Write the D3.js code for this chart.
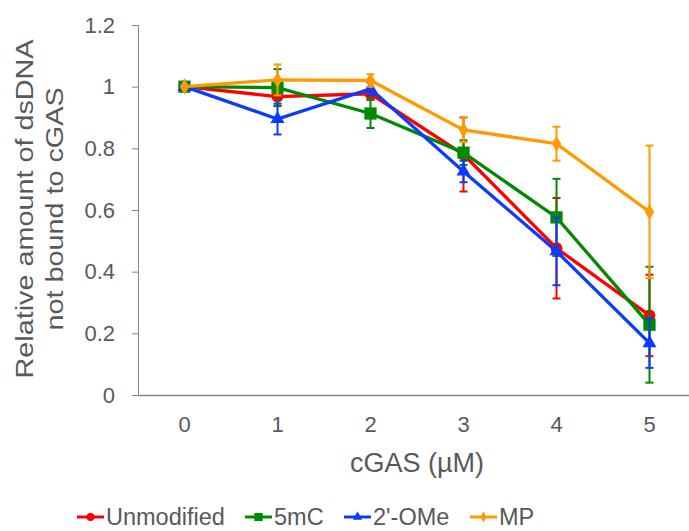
<!DOCTYPE html>
<html>
<head>
<meta charset="utf-8">
<script src="https://cdn.jsdelivr.net/npm/d3@7"></script>
<style>
  body { margin: 0; background: #fff; }
  text { font-family: "Liberation Sans", Arial, sans-serif; fill: #595959; }
</style>
</head>
<body>
<div id="chart"></div>
<script>
var categories = ["0", "1", "2", "3", "4", "5"];
var seriesNames = ["Unmodified", "5mC", "2'-OMe", "MP"];

var unmodified    = [1, 0.968, 0.977, 0.78, 0.476, 0.258];
var unmodifiedErr = [0, 0.03, 0.02, 0.12, 0.163, 0.132];
var mc5           = [1, 0.997, 0.913, 0.786, 0.576, 0.228];
var mc5Err        = [0, 0.06, 0.047, 0.04, 0.125, 0.188];
var ome           = [1, 0.895, 0.993, 0.725, 0.466, 0.168];
var omeErr        = [0, 0.05, 0.02, 0.035, 0.11, 0.08];
var mp            = [1, 1.022, 1.02, 0.86, 0.815, 0.594];
var mpErr         = [0, 0.05, 0.02, 0.04, 0.055, 0.215];

var yTicks = [0, 0.2, 0.4, 0.6, 0.8, 1, 1.2];

var series = [
  { name: seriesNames[0], values: unmodified, err: unmodifiedErr, color: "#ff0000", shape: d3.symbolCircle, size: 110 },
  { name: seriesNames[1], values: mc5, err: mc5Err, color: "#008a00", shape: d3.symbolSquare, size: 150 },
  { name: seriesNames[2], values: ome, err: omeErr, color: "#0a3cff", shape: d3.symbolTriangle, size: 85 },
  { name: seriesNames[3], values: mp, err: mpErr, color: "#ff9a00", shape: d3.symbolDiamond, size: 75 }
];

var WIDTH = 689, HEIGHT = 531;
var MARGINS = { top: 25, left: 138, bottom: 136, right: -7 };

var svg = d3.select("#chart").append("svg")
  .attr("width", WIDTH)
  .attr("height", HEIGHT);

var xRange = d3.scaleBand().domain(categories).range([MARGINS.left, WIDTH - MARGINS.right]);
var yRange = d3.scaleLinear().domain([0, 1.2]).range([HEIGHT - MARGINS.bottom, MARGINS.top]);

var yAxis = d3.axisLeft(yRange).tickValues(yTicks).tickSize(6).tickPadding(17)
  .tickFormat(function (d) { return d3.format("~g")(d); });
var gy = svg.append("g")
  .attr("transform", "translate(" + MARGINS.left + ",0)")
  .call(yAxis);
gy.select(".domain").attr("stroke", "#868686").attr("stroke-width", 1);
gy.selectAll(".tick line").attr("stroke", "#868686");
gy.selectAll(".tick text").style("font-size", "22px").attr("fill", "#595959");

var xAxis = d3.axisBottom(xRange).tickSize(0).tickPadding(21);
var gx = svg.append("g")
  .attr("transform", "translate(0," + yRange(0) + ")")
  .call(xAxis);
gx.select(".domain").attr("stroke", "#868686").attr("stroke-width", 1.3);
gx.selectAll(".tick text").style("font-size", "22px").attr("fill", "#595959");

// axis titles
svg.append("text")
  .attr("x", xRange("2") + xRange.bandwidth())
  .attr("y", 472)
  .attr("text-anchor", "middle")
  .style("font-size", "27px")
  .text("cGAS (µM)");

var yTitle = svg.append("text")
  .attr("transform", "translate(33,209) rotate(-90) scale(1.18,1)")
  .attr("text-anchor", "middle")
  .style("font-size", "24.4px");
yTitle.append("tspan").attr("x", 0).attr("y", 0).text("Relative amount of dsDNA");
yTitle.append("tspan").attr("x", 0).attr("y", 30).text("not bound to cGAS");

var cx = function (i) { return xRange(categories[i]) + xRange.bandwidth() / 2; };

var lineFunc = d3.line()
  .x(function (d, i) { return cx(i); })
  .y(function (d) { return yRange(d); });

series.forEach(function (s) {
  var g = svg.append("g");
  // error bars
  s.values.forEach(function (v, i) {
    if (!s.err[i]) return;
    var x = cx(i), y1 = yRange(v + s.err[i]), y2 = yRange(v - s.err[i]);
    g.append("line").attr("x1", x).attr("x2", x).attr("y1", y1).attr("y2", y2)
      .attr("stroke", s.color).attr("stroke-width", 2);
    [y1, y2].forEach(function (yy) {
      g.append("line").attr("x1", x - 4).attr("x2", x + 4).attr("y1", yy).attr("y2", yy)
        .attr("stroke", s.color).attr("stroke-width", 2);
    });
  });
  g.append("path")
    .attr("d", lineFunc(s.values))
    .attr("fill", "none")
    .attr("stroke", s.color)
    .attr("stroke-width", 3.3);
  g.selectAll(".pt").data(s.values).enter().append("path")
    .attr("transform", function (d, i) { return "translate(" + cx(i) + "," + yRange(d) + ")"; })
    .attr("d", d3.symbol().type(s.shape).size(s.size))
    .attr("fill", s.color);
});

// legend
var legendX = [77, 245, 344, 470];
series.forEach(function (s, i) {
  var lg = svg.append("g").attr("transform", "translate(" + legendX[i] + ",517)");
  lg.append("line").attr("x1", 0).attr("x2", 27).attr("y1", 0).attr("y2", 0)
    .attr("stroke", s.color).attr("stroke-width", 3);
  lg.append("path").attr("transform", "translate(13.5,0)")
    .attr("d", d3.symbol().type(s.shape).size(s.size * 0.45))
    .attr("fill", s.color);
  lg.append("text").attr("x", 29).attr("y", 0).attr("dy", "0.35em")
    .style("font-size", "23.5px")
    .text(s.name);
});
</script>
</body>
</html>
